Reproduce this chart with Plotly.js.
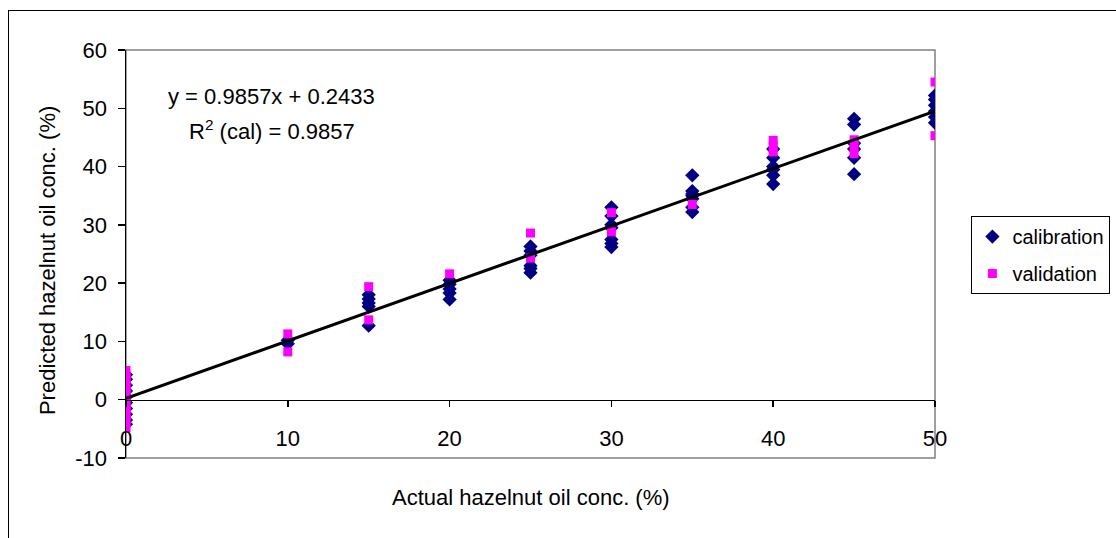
<!DOCTYPE html>
<html>
<head>
<meta charset="utf-8">
<script src="https://cdn.plot.ly/plotly-3.0.1.min.js"></script>
<style>
  html, body { margin: 0; padding: 0; background: #fff; overflow: hidden; }
  #frame { position: absolute; left: 8px; top: 10px; width: 1120px; height: 540px; border: 1.5px solid #000; box-sizing: border-box; }
  #chart { position: absolute; left: 0; top: 0; width: 1116px; height: 538px; }
</style>
</head>
<body>
<div id="frame"></div>
<div id="chart"></div>
<script>
// Calibration set (actual %, predicted %)
const calX = [0,0,0,0,0,0,0,0,0,0,
  10,10,
  15,15,15,15,15,
  20,20,20,20,20,
  25,25,25,25,25,25,
  30,30,30,30,30,30,30,
  35,35,35,35,35,35,35,
  40,40,40,40,40,40,
  45,45,45,45,45,45,
  50,50,50,50,50,50];
const calY = [4.3,3.5,2.5,1.5,0.5,-0.5,-1.5,-2.5,-3.5,-4.2,
  10.2,9.6,
  18.0,17.3,16.6,16.0,12.7,
  20.5,19.8,19.0,18.3,17.2,
  26.3,25.5,24.8,23.0,22.5,21.8,
  33.0,31.5,30.0,29.5,27.5,26.8,26.2,
  38.5,35.8,35.3,35.0,34.5,33.0,32.2,
  43.0,41.5,40.0,39.5,38.5,37.0,
  48.2,47.2,44.0,43.0,41.5,38.7,
  52.2,51.5,50.5,49.5,48.5,47.5];

// Validation set (actual %, predicted %)
const valX = [0,0,0,0,0,0,0,0,0,0,0,0,0,0,0,
  10,10,
  15,15,
  20,
  25,25,
  30,30,
  35,
  40,40,40,
  45,45,45,
  50,50];
const valY = [5.0,4.2,3.5,2.8,2.0,1.4,0.8,0.2,-0.5,-1.2,-1.9,-2.6,-3.3,-4.0,-4.8,
  11.3,8.2,
  19.4,13.7,
  21.6,
  28.6,24.3,
  32.1,28.8,
  33.5,
  44.5,43.5,42.5,
  44.6,43.5,42.2,
  54.5,45.3];

// Regression (calibration): y = slope*x + intercept
const fitSlope = 0.9857;
const fitIntercept = 0.2433;
const fitXRange = [0, 50];
const fitY = fitXRange.map(x => fitSlope * x + fitIntercept);

const xTicks = [0,10,20,30,40,50];
const yTicks = [-10,0,10,20,30,40,50,60];

const font = "'Liberation Sans', Arial, sans-serif";
const fs = 22;

const traces = [
  { x: calX, y: calY, type: 'scatter', mode: 'markers', name: 'calibration', legendgroup: 'cal',
    marker: { symbol: 'diamond', size: 11, color: '#000080', line: { width: 0 } } },
  { x: valX, y: valY, type: 'scatter', mode: 'markers', name: 'validation', legendgroup: 'val',
    marker: { symbol: 'square', size: 9, color: '#FF00FF', line: { width: 0 } } },
  { x: fitXRange, y: fitY, type: 'scatter', mode: 'lines', showlegend: false,
    line: { color: '#000', width: 3 }, hoverinfo: 'skip' }
];

const layout = {
  width: 1116, height: 538,
  margin: { l: 126, r: 181, t: 50, b: 80, autoexpand: false },
  paper_bgcolor: 'rgba(0,0,0,0)',
  plot_bgcolor: '#fff',
  font: { family: font, size: fs, color: '#000' },
  showlegend: true,
  legend: {
    x: 1.045, y: 0.593, xanchor: 'left', yanchor: 'top',
    bgcolor: '#fff', bordercolor: '#000', borderwidth: 1,
    font: { family: font, size: 20, color: '#000' },
    itemwidth: 30, tracegroupgap: 8, traceorder: 'grouped'
  },
  xaxis: {
    range: [0, 50], tickvals: xTicks, ticktext: xTicks.map(String),
    showgrid: false, zeroline: false,
    showline: true, linecolor: '#000', linewidth: 1.5,
    ticks: 'outside', ticklen: 6, tickcolor: '#000', tickwidth: 1.5,
    anchor: 'free', position: 10 / 70,
    ticklabelstandoff: 12,
    tickfont: { family: font, size: fs },
    automargin: false
  },
  yaxis: {
    range: [-10, 60], tickvals: yTicks, ticktext: yTicks.map(String),
    showgrid: false, zeroline: false,
    showline: true, linecolor: '#000', linewidth: 1.5,
    ticks: 'outside', ticklen: 7, tickcolor: '#000', tickwidth: 1.5,
    ticklabelstandoff: 6,
    tickfont: { family: font, size: fs },
    automargin: false
  },
  shapes: [
    { type: 'rect', xref: 'paper', yref: 'paper', x0: 0, x1: 1, y0: 0, y1: 1,
      line: { color: '#808080', width: 1.5 }, fillcolor: 'rgba(0,0,0,0)', layer: 'below' }
  ],
  annotations: [
    { xref: 'paper', yref: 'paper', x: 0.180, y: 0.887, xanchor: 'center', yanchor: 'middle',
      text: 'y = 0.9857x + 0.2433', showarrow: false, font: { family: font, size: fs } },
    { xref: 'paper', yref: 'paper', x: 0.180, y: 0.804, xanchor: 'center', yanchor: 'middle',
      text: 'R<sup>2</sup> (cal) = 0.9857', showarrow: false, font: { family: font, size: fs } },
    { xref: 'paper', yref: 'paper', x: 0.5006, y: -0.0956, xanchor: 'center', yanchor: 'middle',
      text: 'Actual hazelnut oil conc. (%)', showarrow: false, font: { family: font, size: fs } },
    { xref: 'paper', yref: 'paper', x: -0.0977, y: 0.485, xanchor: 'center', yanchor: 'middle',
      text: 'Predicted hazelnut oil conc. (%)', textangle: -90, showarrow: false, font: { family: font, size: fs } }
  ]
};

Plotly.newPlot('chart', traces, layout, { displayModeBar: false, staticPlot: true });
</script>
</body>
</html>
